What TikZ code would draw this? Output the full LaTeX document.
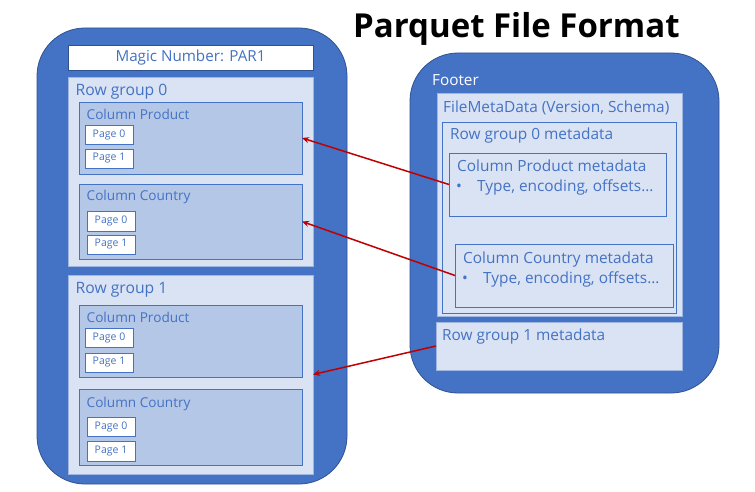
\documentclass[tikz,border=0pt]{standalone}
\usepackage{fontspec}
\setmainfont{Open Sans}
\usetikzlibrary{arrows.meta}
\definecolor{dblue}{HTML}{4472C4}
\definecolor{eblue}{HTML}{2F528F}
\definecolor{lblue}{HTML}{DAE3F3}
\definecolor{mblue}{HTML}{B4C7E7}
\definecolor{ared}{HTML}{C00000}
\tikzset{
  outerbox/.style={draw=eblue, fill=dblue, line width=0.8pt, rounded corners=48pt},
  box/.style={anchor=north west, inner sep=0pt, outer sep=0pt},
  whitebox/.style={box, fill=white, draw=eblue, line width=0.8pt},
  lightbox/.style={box, fill=lblue, draw=lblue!60!dblue, line width=0.8pt},
  colbox/.style={box, fill=mblue, draw=dblue, line width=0.8pt},
  metabox/.style={box, fill=lblue, draw=dblue, line width=0.8pt},
  pagebox/.style={box, fill=white, draw=dblue, line width=0.8pt, text=dblue, font=\fontsize{10.5}{12}\selectfont},
  txt/.style={anchor=base west, inner sep=0pt, text=dblue},
  rgtxt/.style={txt, font=\fontsize{15.7}{18}\selectfont},
  coltxt/.style={txt, font=\fontsize{13.6}{16}\selectfont},
  metatxt/.style={txt, font=\fontsize{15.4}{18}\selectfont},
  link/.style={draw=ared, line width=1.5pt, -{Stealth[length=7pt,width=6pt]}},
}
\begin{document}
\begin{tikzpicture}[x=1pt,y=-1pt]
\useasboundingbox (0,0) rectangle (755,492);
% title
\node[anchor=base west, inner sep=0pt, font=\fontsize{33}{38}\selectfont\bfseries] (title) at (353,38) {Parquet File Format};
% left file
\draw[outerbox] (37,28) rectangle (347,484);
\node[whitebox, minimum width=245pt, minimum height=25pt] (magic) at (68,45) {};
\node[anchor=center, inner sep=0pt, text=dblue, font=\fontsize{15.2}{18}\selectfont] (magictxt) at (magic.center) {Magic Number: PAR1};
% row group 0
\node[lightbox, minimum width=245pt, minimum height=189pt] (rg0) at (68,77) {};
\node[rgtxt] (rg0t) at (75.5,95.5) {Row group 0};
\node[colbox, minimum width=223pt, minimum height=72pt] (cp0) at (79,102) {};
\node[coltxt] (cp0t) at (86.5,120) {Column Product};
\node[pagebox, minimum width=48pt, minimum height=19pt] (cp0p0) at (85,125) {Page 0};
\node[pagebox, minimum width=48pt, minimum height=19pt] (cp0p1) at (85,149) {Page 1};
\node[colbox, minimum width=223pt, minimum height=75pt] (cc0) at (79,184) {};
\node[coltxt] (cc0t) at (86.5,200.5) {Column Country};
\node[pagebox, minimum width=48pt, minimum height=20pt] (cc0p0) at (87,211) {Page 0};
\node[pagebox, minimum width=48pt, minimum height=19pt] (cc0p1) at (87,235) {Page 1};
% row group 1
\node[lightbox, minimum width=245pt, minimum height=199pt] (rg1) at (68,275) {};
\node[rgtxt] (rg1t) at (75.5,293) {Row group 1};
\node[colbox, minimum width=223pt, minimum height=72pt] (cp1) at (79,305) {};
\node[coltxt] (cp1t) at (86.5,322.5) {Column Product};
\node[pagebox, minimum width=48pt, minimum height=19pt] (cp1p0) at (85,328) {Page 0};
\node[pagebox, minimum width=48pt, minimum height=19pt] (cp1p1) at (85,353) {Page 1};
\node[colbox, minimum width=223pt, minimum height=76pt] (cc1) at (79,389) {};
\node[coltxt] (cc1t) at (86.5,407) {Column Country};
\node[pagebox, minimum width=48pt, minimum height=19pt] (cc1p0) at (87,417) {Page 0};
\node[pagebox, minimum width=48pt, minimum height=20pt] (cc1p1) at (87,441) {Page 1};
% right footer
\draw[outerbox] (410,53) rectangle (719,393);
\node[anchor=base west, inner sep=0pt, text=white, font=\fontsize{15.3}{18}\selectfont] (foott) at (432,86) {Footer};
\node[lightbox, minimum width=245pt, minimum height=223pt] (fmd) at (437,93) {};
\node[metatxt] (fmdt) at (443,112.5) {FileMetaData (Version, Schema)};
\node[metabox, draw=dblue, minimum width=234pt, minimum height=191pt] (rg0m) at (442,122) {};
\node[metatxt] (rg0mt) at (450,140) {Row group 0 metadata};
\node[metabox, minimum width=217pt, minimum height=63pt] (cpm) at (449,153) {};
\node[metatxt] (cpmt) at (457,171.5) {Column Product metadata};
\node[metatxt] (cpmb) at (456,191.5) {•};
\node[metatxt] (cpml) at (477,191.5) {Type, encoding, offsets…};
\node[metabox, minimum width=218pt, minimum height=63pt] (ccm) at (455,244) {};
\node[metatxt] (ccmt) at (463,263) {Column Country metadata};
\node[metatxt] (ccmb) at (462,283) {•};
\node[metatxt] (ccml) at (483,283) {Type, encoding, offsets…};
\node[lightbox, minimum width=246pt, minimum height=48pt] (rg1m) at (436,322) {};
\node[metatxt] (rg1mt) at (442,340.5) {Row group 1 metadata};
% links
\draw[link] (cpm.west) -- (cp0.east);
\draw[link] (ccm.west) -- (cc0.east);
\draw[link] (rg1m.west) -- (rg1.east);
\end{tikzpicture}
\end{document}
